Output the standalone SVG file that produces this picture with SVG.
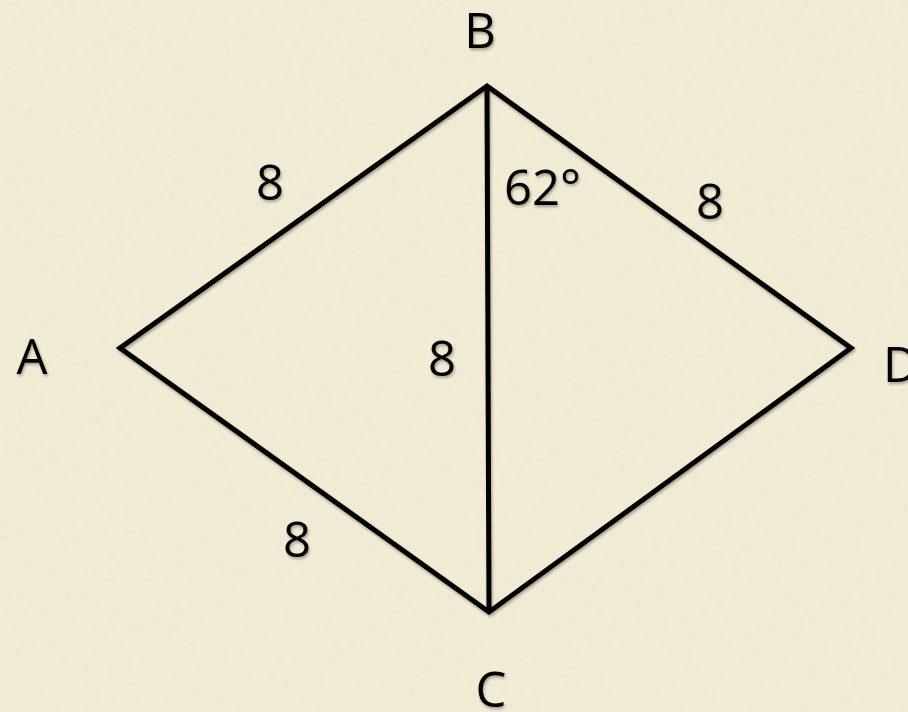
<svg xmlns="http://www.w3.org/2000/svg" width="908" height="712" viewBox="0 0 908 712">
  <defs>
    <filter id="paper" x="0" y="0" width="100%" height="100%">
      <feTurbulence type="fractalNoise" baseFrequency="0.12" numOctaves="4" seed="7" result="n"/>
      <feColorMatrix in="n" type="matrix" values="0 0 0 0 0.84  0 0 0 0 0.80  0 0 0 0 0.66  2.2 0 0 0 -1.0" result="c"/>
      <feComposite in="c" in2="SourceGraphic" operator="in"/>
    </filter>
    <filter id="shadow" x="-10%" y="-10%" width="120%" height="130%">
      <feGaussianBlur in="SourceAlpha" stdDeviation="1.5"/>
      <feOffset dx="1" dy="2" result="b"/>
      <feComponentTransfer><feFuncA type="linear" slope="0.35"/></feComponentTransfer>
      <feMerge><feMergeNode/><feMergeNode in="SourceGraphic"/></feMerge>
    </filter>
  </defs>
  <style>
    .lbl { font-family: "Open Sans", Lato, "Liberation Sans", sans-serif; font-size: 49px; fill: #000; }
    .edge { stroke: #000; stroke-width: 5; fill: none; stroke-linejoin: miter; stroke-linecap: butt; }
  </style>
  <rect width="908" height="712" fill="#F3ECD4"/>
  <rect width="908" height="712" fill="#F3ECD4" filter="url(#paper)"/>
  <g id="connectors" filter="url(#shadow)">
    <polygon class="edge" points="487,86 851,348 489,612 120,348"/>
    <line class="edge" x1="487" y1="86" x2="489" y2="612"/>
  </g>
  <g filter="url(#shadow)">
    <g id="nodeB"><text class="lbl" x="480" y="48" text-anchor="middle">B</text></g>
    <g id="nodeA"><text class="lbl" x="32" y="374" text-anchor="middle">A</text></g>
    <g id="nodeD"><text class="lbl" x="883" y="382">D</text></g>
    <g id="nodeC"><text class="lbl" x="491" y="707" text-anchor="middle">C</text></g>
    <g id="labels">
      <text class="lbl" x="270" y="200" text-anchor="middle">8</text>
      <text class="lbl" x="710" y="219" text-anchor="middle">8</text>
      <text class="lbl" x="442" y="376" text-anchor="middle">8</text>
      <text class="lbl" x="297" y="557" text-anchor="middle">8</text>
      <text class="lbl" x="504" y="205">62°</text>
    </g>
  </g>
</svg>
